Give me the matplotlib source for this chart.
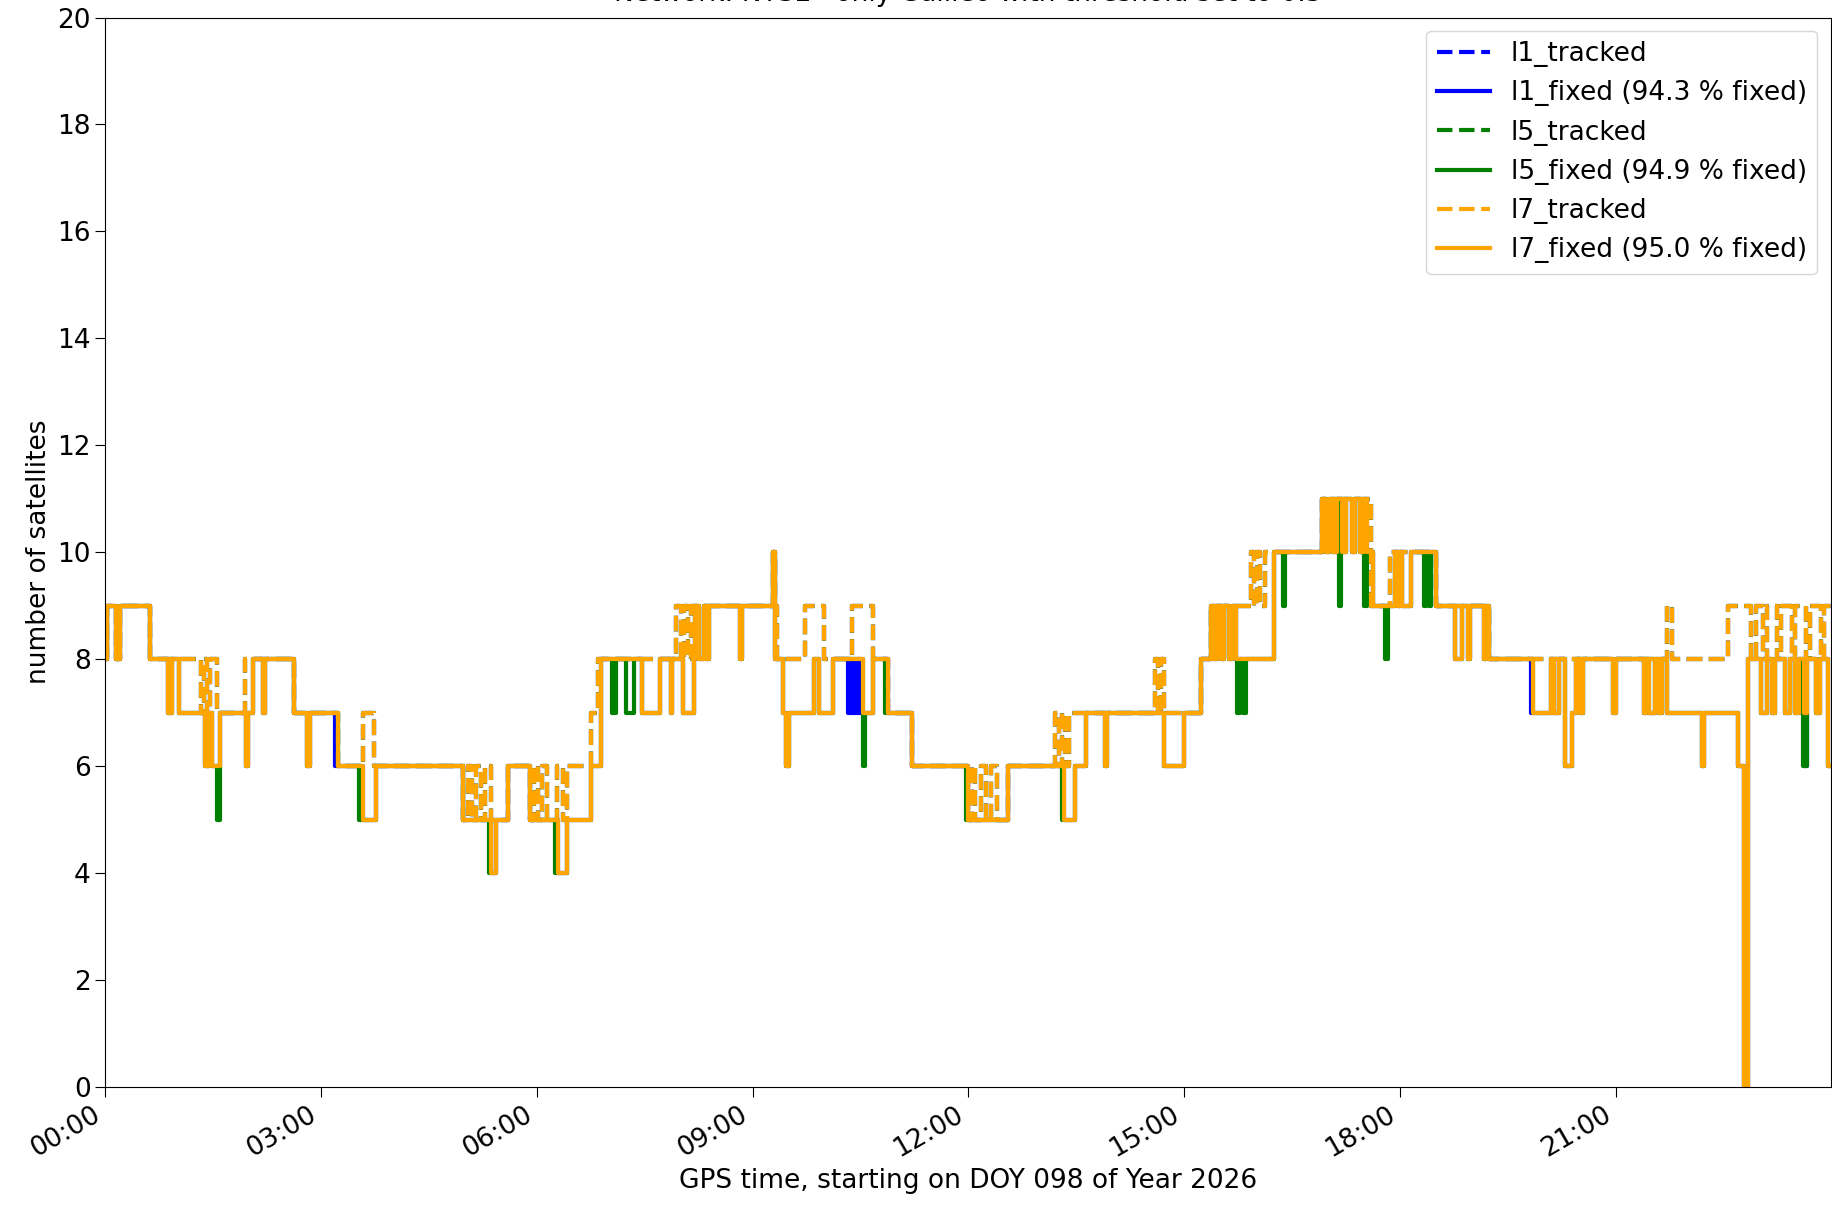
import numpy as np
import pandas as pd
import matplotlib
matplotlib.use("Agg")
import matplotlib.pyplot as plt
import matplotlib.dates as mdates

# tracked satellites (hours since 00:00, value from that time on)
trk_t = [0.00, 0.03, 0.15, 0.21, 0.62, 1.33, 1.37, 1.41, 1.45, 1.55, 1.95, 2.62, 3.24, 3.59, 3.74,
         4.98, 5.05, 5.10, 5.15, 5.22, 5.28, 5.36, 5.60, 5.91, 5.96, 6.02, 6.08, 6.14, 6.28, 6.36, 6.42,
         6.75, 6.85, 7.93, 8.00, 8.05, 8.10, 8.15, 9.28, 9.31, 9.34, 9.73, 9.99, 10.39, 10.68, 10.89,
         11.22, 11.99, 12.05, 12.10, 12.18, 12.25, 12.32, 12.40, 12.55, 13.21, 13.26, 13.30, 13.35,
         13.40, 14.60, 14.64, 14.68, 14.72, 15.23, 15.37, 15.93, 15.97, 16.02, 16.06, 16.13, 16.92,
         17.60, 17.87, 18.50, 19.24, 21.72, 21.78, 22.56, 22.88, 22.95, 23.05, 23.10, 23.25, 23.30,
         23.45, 23.50, 23.65, 23.70, 23.85, 23.90]
trk_v = [8, 9, 8, 9, 8, 7, 8, 7, 8, 7, 8, 7, 6, 7, 6,
         5, 6, 5, 6, 5, 6, 5, 6, 5, 6, 5, 6, 5, 6, 5, 6,
         7, 8, 9, 8, 9, 8, 9, 10, 9, 8, 9, 8, 9, 8, 7,
         6, 5, 6, 5, 6, 5, 6, 5, 6, 7, 6, 7, 6,
         7, 8, 7, 8, 7, 8, 9, 10, 9, 10, 9, 10, 11,
         9, 10, 9, 8, 9, 8, 9, 8, 9, 8, 9, 8, 9,
         8, 9, 8, 9, 8, 9]

# l7 fixed satellites
fix_t = [0.00, 0.03, 0.15, 0.21, 0.62, 0.87, 0.93, 1.02, 1.39, 1.44, 1.48, 1.60, 1.96, 1.99, 2.06,
         2.19, 2.22, 2.62, 2.81, 2.85, 3.24, 3.59, 3.76, 4.98, 5.36, 5.44, 5.60, 5.91, 6.30, 6.42,
         6.75, 6.89, 7.47, 7.72, 7.86, 7.88, 8.04, 8.18, 8.20, 8.26, 8.32, 8.36, 8.40, 8.83, 8.86,
         9.28, 9.31, 9.42, 9.47, 9.51, 9.85, 9.92, 10.12, 10.53, 10.67, 10.89, 11.22, 11.99, 12.55,
         13.33, 13.49, 13.63, 13.90, 13.93, 14.72, 15.00, 15.23, 15.37, 15.42, 15.46, 15.52, 15.56,
         15.62, 15.66, 15.72, 16.25, 16.92, 16.97, 17.02, 17.07, 17.12, 17.20, 17.25, 17.33, 17.38,
         17.45, 17.50, 17.55, 17.63, 17.93, 17.97, 18.00, 18.03, 18.15, 18.50, 18.77, 18.87, 18.95,
         18.97, 19.17, 19.20, 19.24, 19.85, 20.10, 20.15, 20.22, 20.30, 20.40, 20.45, 20.50, 20.55,
         20.97, 21.00, 21.39, 21.42, 21.46, 21.55, 21.60, 21.65, 21.72, 22.20, 22.23, 22.70, 22.78,
         22.84, 23.02, 23.10, 23.18, 23.21, 23.35, 23.42, 23.50, 23.55, 23.62, 23.66, 23.78, 23.84,
         23.96]
fix_v = [8, 9, 8, 9, 8, 7, 8, 7, 6, 7, 6, 7, 6, 7, 8,
         7, 8, 7, 6, 7, 6, 5, 6, 5, 4, 5, 6, 5, 4, 5,
         6, 8, 7, 8, 7, 8, 7, 8, 9, 8, 9, 8, 9, 8, 9,
         10, 8, 7, 6, 7, 8, 7, 8, 7, 8, 7, 6, 5, 6,
         5, 6, 7, 6, 7, 6, 7, 8, 9, 8, 9, 8, 9,
         8, 9, 8, 10, 11, 10, 11, 10, 11, 10, 11, 10, 11,
         10, 11, 10, 9, 10, 9, 10, 9, 10, 9, 8, 9, 8,
         9, 8, 9, 8, 7, 8, 7, 8, 6, 7, 8, 7, 8,
         7, 8, 7, 8, 7, 8, 7, 8, 7, 6, 7, 6, 0,
         8, 7, 8, 7, 8, 7, 8, 7, 8, 7, 8, 7, 8,
         6]

# extra short drops of l5 / l1 fixed below the l7 fixed curve (start, end, value)
l5_drops = [(1.56, 1.59, 5), (3.53, 3.59, 5), (5.33, 5.36, 4), (6.26, 6.30, 4), (7.04, 7.10, 7),
            (7.24, 7.35, 7), (10.53, 10.56, 6), (10.84, 10.89, 7), (11.97, 12.00, 5),
            (13.30, 13.34, 5), (15.74, 15.78, 7), (15.82, 15.86, 7), (16.37, 16.40, 9),
            (17.15, 17.18, 9), (17.50, 17.55, 9), (17.80, 17.83, 8), (18.33, 18.36, 9),
            (18.40, 18.43, 9), (20.12, 20.16, 7), (23.60, 23.66, 6)]
l1_drops = [(3.20, 3.24, 6), (10.33, 10.36, 7), (10.38, 10.41, 7), (10.43, 10.47, 7),
            (10.49, 10.53, 7), (14.88, 14.93, 6), (19.82, 19.85, 7), (21.44, 21.46, 7),
            (23.62, 23.66, 6), (23.78, 23.83, 7)]

pct = {"l1": 94.3, "l5": 94.9, "l7": 95.0}
colors = {"l1": "blue", "l5": "green", "l7": "orange"}
day0 = pd.Timestamp("2026-04-08")
t_end = 23.99
fs = 19


def with_drops(t, v, drops):
    pts = sorted(set(t) | {d[0] for d in drops} | {d[1] for d in drops})
    out = []
    for p in pts:
        val = v[np.searchsorted(t, p, side="right") - 1]
        for a, b, dv in drops:
            if a <= p < b:
                val = min(val, dv)
        out.append(val)
    return pts, out


def to_time(h):
    h = list(h) + [t_end]
    return day0 + pd.to_timedelta(h, unit="h")


series = {
    "l1": (trk_t, trk_v) + tuple(with_drops(fix_t, fix_v, l1_drops)),
    "l5": (trk_t, trk_v) + tuple(with_drops(fix_t, fix_v, l5_drops)),
    "l7": (trk_t, trk_v, fix_t, fix_v),
}

fig = plt.figure(figsize=(18.33, 12.1), dpi=100)
ax = fig.add_axes([0.0574, 0.1017, 0.9413, 0.8838])

for name, (tt, tv, ft, fv) in series.items():
    ax.plot(to_time(tt), list(tv) + [tv[-1]], "--", drawstyle="steps-post",
            color=colors[name], linewidth=3, label=name + "_tracked")
    ax.plot(to_time(ft), list(fv) + [fv[-1]], "-", drawstyle="steps-post",
            color=colors[name], linewidth=3,
            label="%s_fixed (%.1f %% fixed)" % (name, pct[name]))

ax.set_ylim(0, 20)
ax.set_yticks(range(0, 21, 2))
ax.set_xlim(day0, day0 + pd.Timedelta(hours=t_end))
ax.xaxis.set_major_locator(mdates.HourLocator(interval=3))
ax.xaxis.set_major_formatter(mdates.DateFormatter("%H:%M"))
ax.tick_params(labelsize=fs, length=7)
for lab in ax.get_xticklabels():
    lab.set_rotation(30)
    lab.set_ha("right")

ax.set_ylabel("number of satellites", fontsize=fs)
ax.set_xlabel("GPS time, starting on DOY 098 of Year 2026", fontsize=fs)
ax.set_title("Network: NTSL - only Galileo with threshold set to 0.5", fontsize=fs, pad=12)
ax.legend(loc="upper right", fontsize=fs)

fig.savefig("out.png", dpi=100)
